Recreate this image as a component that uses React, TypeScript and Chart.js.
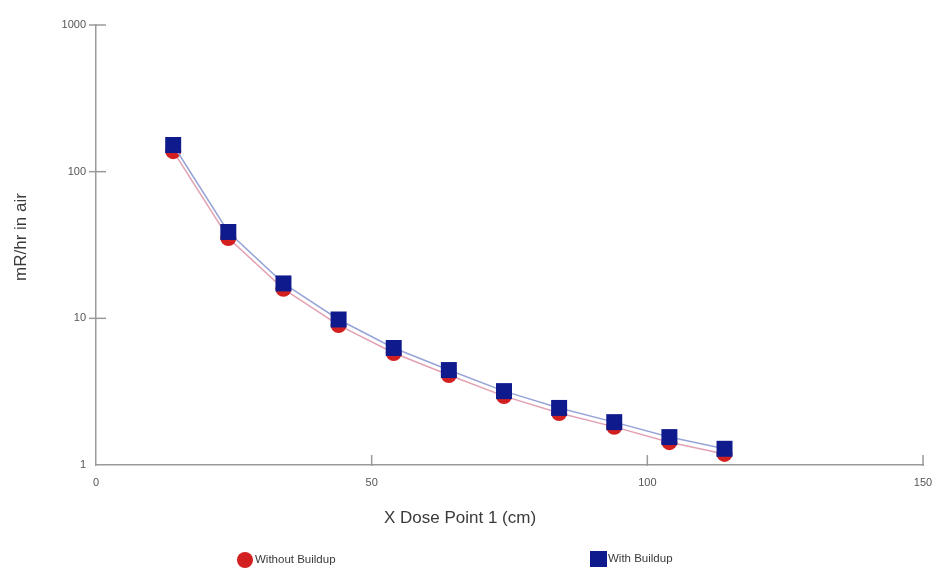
import React, { useEffect, useRef } from "react";
import { Chart, registerables } from "chart.js";

Chart.register(...registerables);

// ---- data ----
const xValues = [14, 24, 34, 44, 54, 64, 74, 84, 94, 104, 114];
const withoutBuildup = [138, 35.3, 15.9, 9.0, 5.8, 4.11, 2.95, 2.26, 1.82, 1.43, 1.19];
const withBuildup = [152, 38.8, 17.3, 9.82, 6.28, 4.44, 3.19, 2.45, 1.96, 1.55, 1.29];
const yTicks = [1, 10, 100, 1000];
const xTicks = [0, 50, 100, 150];
const seriesNames = ["Without Buildup", "With Buildup"];
const xTitle = "X Dose Point 1 (cm)";
const yTitle = "mR/hr in air";

const FONT = "'Liberation Sans', Arial, Helvetica, sans-serif";
const RED = "#d21f1f";
const BLUE = "#0f1a8c";
const AXIS = "#9a9a9a";

const decorPlugin = {
  id: "decor",
  beforeDatasetsDraw(chart: any) {
    const { ctx, chartArea, scales } = chart;
    const xs = scales.x;
    const ys = scales.y;
    ctx.save();
    ctx.strokeStyle = AXIS;
    ctx.lineWidth = 1.5;
    xTicks.forEach((v) => {
      if (v === 0) return;
      const px = xs.getPixelForValue(v);
      ctx.beginPath();
      ctx.moveTo(px, chartArea.bottom - 10);
      ctx.lineTo(px, chartArea.bottom + 1);
      ctx.stroke();
    });
    yTicks.forEach((v) => {
      if (v === 1) return;
      const py = ys.getPixelForValue(v);
      ctx.beginPath();
      ctx.moveTo(chartArea.left - 7, py);
      ctx.lineTo(chartArea.left + 10, py);
      ctx.stroke();
    });
    ctx.restore();
  },
  afterDraw(chart: any) {
    const { ctx } = chart;
    const ds = chart.data.datasets;
    ctx.save();
    // x title
    ctx.fillStyle = "#3a3a3a";
    ctx.font = `17px ${FONT}`;
    ctx.textAlign = "center";
    ctx.textBaseline = "middle";
    ctx.fillText(xTitle, 460, 518);
    // y title
    ctx.save();
    ctx.translate(21, 237);
    ctx.rotate(-Math.PI / 2);
    ctx.font = `17px ${FONT}`;
    ctx.fillText(yTitle, 0, 0);
    ctx.restore();
    // legend
    ctx.font = `11.5px ${FONT}`;
    ctx.textAlign = "left";
    ctx.fillStyle = ds[0].pointBackgroundColor;
    ctx.beginPath();
    ctx.arc(245, 560, 8, 0, Math.PI * 2);
    ctx.fill();
    ctx.fillStyle = "#3a3a3a";
    ctx.fillText(ds[0].label, 255, 560);
    ctx.fillStyle = ds[1].pointBackgroundColor;
    ctx.fillRect(590, 551, 17, 16);
    ctx.fillStyle = "#3a3a3a";
    ctx.fillText(ds[1].label, 608, 559);
    ctx.restore();
  },
};

export default function App() {
  const ref = useRef<HTMLCanvasElement | null>(null);

  useEffect(() => {
    document.body.style.margin = "0";
    const canvas = ref.current;
    if (!canvas) return;
    const chart = new Chart(canvas, {
      type: "scatter",
      data: {
        datasets: [
          {
            label: seriesNames[0],
            data: xValues.map((x, i) => ({ x, y: withoutBuildup[i] })),
            showLine: true,
            borderColor: "#e3a1b2",
            borderWidth: 1.5,
            pointStyle: "circle",
            pointRadius: 8,
            pointHoverRadius: 8,
            pointBackgroundColor: RED,
            pointBorderColor: RED,
            pointBorderWidth: 0,
            order: 2,
          },
          {
            label: seriesNames[1],
            data: xValues.map((x, i) => ({ x, y: withBuildup[i] })),
            showLine: true,
            borderColor: "#97a4d8",
            borderWidth: 1.5,
            pointStyle: "rect",
            pointRadius: 11.3,
            pointHoverRadius: 11.3,
            pointBackgroundColor: BLUE,
            pointBorderColor: BLUE,
            pointBorderWidth: 0,
            order: 1,
          },
        ],
      },
      options: {
        animation: false,
        responsive: false,
        devicePixelRatio: 1,
        layout: { padding: { top: 25, right: 13, bottom: 0, left: 0 } },
        plugins: {
          legend: { display: false },
          tooltip: { enabled: false },
          title: { display: false },
        },
        scales: {
          x: {
            type: "linear",
            min: 0,
            max: 150,
            afterBuildTicks: (scale: any) => {
              scale.ticks = xTicks.map((v) => ({ value: v }));
            },
            afterFit: (scale: any) => {
              scale.height = 104;
              scale.paddingLeft = 0;
              scale.paddingRight = 0;
            },
            grid: { display: false, drawTicks: false },
            border: { display: true, color: AXIS, width: 1.5 },
            ticks: {
              color: "#555",
              font: { family: FONT, size: 11 },
              padding: 11,
              maxRotation: 0,
              callback: (v: any) => String(v),
            },
          },
          y: {
            type: "logarithmic",
            min: 1,
            max: 1000,
            afterBuildTicks: (scale: any) => {
              scale.ticks = yTicks.map((v) => ({ value: v }));
            },
            afterFit: (scale: any) => {
              scale.width = 96;
              scale.paddingTop = 0;
              scale.paddingBottom = 0;
            },
            grid: { display: false, drawTicks: false },
            border: { display: true, color: AXIS, width: 1.5 },
            ticks: {
              color: "#555",
              font: { family: FONT, size: 11 },
              padding: 10,
              callback: (v: any) => String(v),
            },
          },
        },
      },
      plugins: [decorPlugin],
    } as any);
    return () => chart.destroy();
  }, []);

  return (
    <div style={{ width: 936, height: 569, background: "#fff" }}>
      <canvas ref={ref} width={936} height={569} style={{ display: "block" }} />
    </div>
  );
}
